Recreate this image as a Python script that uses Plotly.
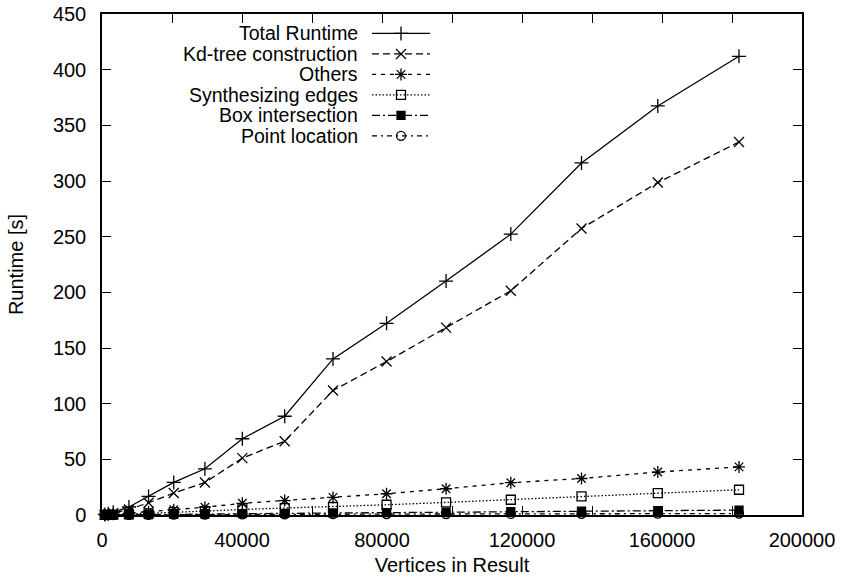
import plotly.graph_objects as go

vertices = [800, 1800, 3200, 7700, 13300, 20500, 29400, 40100, 52200, 66000,
            81300, 98300, 116800, 137000, 158800, 182000]
total_runtime = [0.5, 1.2, 2.5, 7.2, 16.7, 29.3, 41.5, 68.5, 88.7, 140.2,
                 172.2, 210.1, 252.3, 316.2, 367.4, 412.0]
kdtree = [0.3, 0.8, 1.7, 5.0, 11.0, 19.7, 29.2, 51.1, 66.3, 111.8,
          137.8, 168.3, 201.4, 257.4, 298.6, 335.0]
others = [0.1, 0.3, 0.6, 1.5, 3.0, 4.8, 7.0, 10.5, 13.0, 15.8,
          19.1, 23.6, 29.0, 32.8, 38.6, 43.2]
synth_edges = [0.05, 0.15, 0.3, 0.8, 1.5, 2.5, 3.5, 5.0, 6.2, 7.2,
               9.2, 11.3, 13.7, 16.7, 19.7, 22.7]
box_inter = [0.02, 0.05, 0.1, 0.2, 0.4, 0.6, 0.9, 1.2, 1.5, 1.8,
             2.1, 2.5, 2.9, 3.4, 3.9, 4.4]
point_loc = [0.01, 0.03, 0.05, 0.1, 0.2, 0.3, 0.4, 0.5, 0.6, 0.7,
             0.8, 0.9, 1.0, 1.1, 1.2, 1.3]

series_names = ["Total Runtime", "Kd-tree construction", "Others",
                "Synthesizing edges", "Box intersection", "Point location"]
series_values = [total_runtime, kdtree, others, synth_edges, box_inter, point_loc]
dashes = ["solid", "7px,4px", "4px,5px", "1.5px,2px", "8px,3px,2px,3px", "5px,4px,2px,4px"]
symbols = ["cross-thin-open", "x-thin-open", "asterisk-open", "square-open", "square", "circle-open"]
sizes = [10, 10, 10, 9, 8, 9]

x_ticks = list(range(0, 200001, 20000))
x_ticktext = [str(v) if v % 40000 == 0 else "" for v in x_ticks]
y_ticks = list(range(0, 451, 50))

FONT = "Liberation Sans, Arial, Helvetica, sans-serif"
FS = 20
FS_LEG = 19.5
fig = go.Figure()

for name, vals, d, sym, sz in zip(series_names, series_values, dashes, symbols, sizes):
    fig.add_trace(go.Scatter(
        x=vertices, y=vals, name=name, mode="lines+markers",
        line=dict(color="black", width=1.3, dash=d),
        marker=dict(symbol=sym, size=sz, color="black",
                    line=dict(color="black", width=1.3)),
        showlegend=False, cliponaxis=False))

# custom legend (gnuplot style: text right-aligned, sample on the right)
L, R, T, B = 102, 802, 13.5, 515.3
def px(xp):
    return (xp - L) / (R - L)
def py(yp):
    return (B - yp) / (B - T)

row_y = [33, 53.5, 74, 94.5, 115, 135.5]
for name, d, sym, sz, ry in zip(series_names, dashes, symbols, sizes, row_y):
    fig.add_trace(go.Scatter(
        x=[px(372), px(430)], y=[py(ry), py(ry)], mode="lines",
        line=dict(color="black", width=1.3, dash=d),
        xaxis="x2", yaxis="y2", showlegend=False, hoverinfo="skip"))
    fig.add_trace(go.Scatter(
        x=[px(401)], y=[py(ry)], mode="markers",
        marker=dict(symbol=sym, size=sz, color="black",
                    line=dict(color="black", width=1.3)),
        xaxis="x2", yaxis="y2", showlegend=False, hoverinfo="skip"))
    fig.add_annotation(x=px(359), y=py(ry), xref="x2", yref="y2",
                       text=name, showarrow=False, xanchor="right",
                       yanchor="middle", borderpad=0,
                       font=dict(size=FS_LEG, color="black", family=FONT))

axis_common = dict(showline=True, linecolor="black", linewidth=1.5, mirror="ticks",
                   ticks="inside", ticklen=9, tickwidth=1.2, tickcolor="black",
                   showgrid=False, zeroline=False, automargin=False,
                   tickfont=dict(size=FS, color="black", family=FONT))

fig.update_layout(
    width=841, height=580,
    margin=dict(l=L, r=841 - R, t=T, b=580 - B),
    paper_bgcolor="white", plot_bgcolor="white",
    font=dict(family=FONT, color="black", size=FS),
    xaxis=dict(range=[0, 200000], tickvals=x_ticks, ticktext=x_ticktext,
               ticklabelstandoff=6,
               title=dict(text="Vertices in Result", font=dict(size=FS), standoff=8),
               **axis_common),
    yaxis=dict(range=[0, 450], tickvals=y_ticks, ticklabelstandoff=10,
               title=dict(text="Runtime [s]", font=dict(size=FS), standoff=24),
               **axis_common),
    xaxis2=dict(range=[0, 1], overlaying="x", visible=False, fixedrange=True),
    yaxis2=dict(range=[0, 1], overlaying="y", visible=False, fixedrange=True),
    showlegend=False,
)

fig.write_html("out.html")
